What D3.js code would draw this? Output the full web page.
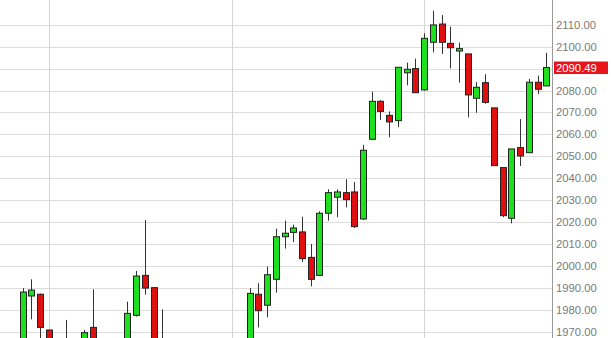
<!DOCTYPE html>
<html>
<head>
<meta charset="utf-8">
<script src="https://cdn.jsdelivr.net/npm/d3@7"></script>
<style>
  body { margin: 0; background: #fff; }
  svg { display: block; }
</style>
</head>
<body>
<div id="chart"></div>
<script>
// weekly candles, oldest first (values below ~1967 fall off the bottom of the view)
var opens  = [1962, 1986.4, 1987.2, 1970.9, 1950, 1958, 1962, 1955, 1972.1, 1960,
              1945, 1950, 1962, 1977.6, 1995.8, 1990.2, 1960, 1950, 1930, 1910,
              1920, 1940, 1935, 1945, 1958, 1950, 1962, 1987.2, 1982.2, 1994.0,
              2013.4, 2015.4, 2015.6, 2004.0, 1995.8, 2024.1, 2031.4, 2033.5, 2033.8, 2021.5,
              2057.8, 2075.1, 2068.7, 2066.3, 2088.1, 2090.0, 2080.3, 2102.0, 2110.3, 2101.5,
              2098.0, 2096.7, 2076.5, 2083.6, 2072.1, 2044.9, 2021.8, 2054.0, 2051.7, 2083.8,
              2082.1];
var highs  = [1990.0, 1994.0, 1987.5, 1971.0, 1962, 1975.5, 1966, 1970.9, 1989.4, 1965,
              1960, 1966, 1983.8, 1997.8, 2021.0, 1990.5, 1980.3, 1960, 1945, 1925,
              1945, 1955, 1950, 1962, 1966, 1965, 1990.0, 1992.2, 1999.8, 2017.1,
              2020.7, 2018.9, 2022.5, 2010.1, 2025.0, 2035.0, 2035.0, 2039.6, 2038.3, 2055.2,
              2079.5, 2075.6, 2070.5, 2090.6, 2092.7, 2094.5, 2106.1, 2116.4, 2114.4, 2109.1,
              2101.8, 2096.7, 2083.9, 2087.4, 2072.1, 2044.9, 2053.4, 2067.0, 2085.3, 2086.8,
              2097.2];
var lows   = [1955, 1975.8, 1962, 1945, 1940, 1950, 1945, 1950, 1955, 1940,
              1935, 1945, 1958, 1977.0, 1987.0, 1955, 1945, 1925, 1905, 1890,
              1915, 1930, 1920, 1940, 1945, 1945, 1958, 1972.1, 1976.7, 1987.9,
              2008.0, 2011.0, 2001.9, 1990.8, 1995.5, 2020.7, 2022.3, 2026.8, 2017.4, 2021.0,
              2057.5, 2066.6, 2058.7, 2063.3, 2082.4, 2079.0, 2080.0, 2097.4, 2096.7, 2090.1,
              2083.6, 2067.8, 2069.9, 2074.0, 2045.8, 2022.3, 2019.5, 2045.6, 2051.5, 2078.4,
              2082.0];
var closes = [1988.2, 1989.1, 1972.1, 1950, 1958, 1962, 1950, 1969.7, 1960, 1945,
              1950, 1962, 1978.5, 1995.5, 1990.0, 1960, 1950, 1930, 1910, 1920,
              1940, 1935, 1945, 1958, 1950, 1962, 1987.6, 1979.7, 1996.1, 2013.4,
              2015.0, 2017.4, 2003.4, 1994.0, 2024.1, 2033.5, 2033.8, 2030.3, 2018.0, 2052.8,
              2075.1, 2070.5, 2065.7, 2090.6, 2089.7, 2079.0, 2103.8, 2109.9, 2102.0, 2099.5,
              2099.1, 2078.0, 2081.5, 2074.6, 2045.8, 2023.0, 2053.4, 2050.2, 2083.8, 2080.6,
              2090.49];
var yTicks = [1970, 1980, 1990, 2000, 2010, 2020, 2030, 2040, 2050, 2060, 2070, 2080, 2090, 2100, 2110];
var vGridAt = [3, 24, 46];   // candle indexes that carry a vertical grid line
var lastPrice = 2090.49;

var width = 611, height = 338, axisX = 552.5;

var candles = opens.map(function (o, i) {
    return { i: i, o: o, h: highs[i], l: lows[i], c: closes[i] };
});

var x = d3.scaleLinear().domain([0, candles.length - 1]).range([22.7, 546.3]);
var y = d3.scaleLinear().domain([1970, 2110]).range([332, 24.7]);

var svg = d3.select('#chart').append('svg')
    .attr('width', width)
    .attr('height', height);

// horizontal grid
svg.append('g').selectAll('line')
    .data(yTicks)
    .enter().append('line')
    .attr('x1', 0)
    .attr('x2', axisX)
    .attr('y1', function (d) { return Math.round(y(d)) + 0.5; })
    .attr('y2', function (d) { return Math.round(y(d)) + 0.5; })
    .style('stroke', '#dcdcdc')
    .style('stroke-width', 1);

// vertical grid
svg.append('g').selectAll('line')
    .data(vGridAt)
    .enter().append('line')
    .attr('x1', function (d) { return Math.round(x(d)) + 0.5; })
    .attr('x2', function (d) { return Math.round(x(d)) + 0.5; })
    .attr('y1', 0)
    .attr('y2', height)
    .style('stroke', '#d4d4d4')
    .style('stroke-width', 1);

var g = svg.append('g').selectAll('g')
    .data(candles)
    .enter()
    .append('g');

g.append('line')
    .attr('x1', function (d) { return Math.round(x(d.i)) + 0.5; })
    .attr('x2', function (d) { return Math.round(x(d.i)) + 0.5; })
    .attr('y1', function (d) { return y(d.h); })
    .attr('y2', function (d) { return y(d.l); })
    .style('stroke', '#333')
    .style('stroke-width', 1);

g.append('rect')
    .attr('x', function (d) { return Math.round(x(d.i)) - 2.5; })
    .attr('y', function (d) { return y(Math.max(d.o, d.c)); })
    .attr('width', 6)
    .attr('height', function (d) { return Math.max(1, Math.abs(y(d.o) - y(d.c))); })
    .style('fill', function (d) { return d.c >= d.o ? '#1ee01e' : '#e01010'; })
    .style('stroke', '#222')
    .style('stroke-width', 1);

// right axis
svg.append('line')
    .attr('x1', axisX).attr('x2', axisX)
    .attr('y1', 0).attr('y2', height)
    .style('stroke', '#999');

svg.append('g').selectAll('text')
    .data(yTicks)
    .enter().append('text')
    .text(function (d) { return d.toFixed(2); })
    .attr('x', 556)
    .attr('y', function (d) { return y(d) + 1; })
    .attr('dominant-baseline', 'middle')
    .style('font-family', 'Liberation Sans, Arial, sans-serif')
    .style('font-size', '11.3px')
    .style('fill', '#7a7a7a');

// last price tag
svg.append('rect')
    .attr('x', 554)
    .attr('y', y(lastPrice) - 6)
    .attr('width', 54)
    .attr('height', 12.5)
    .style('fill', '#e8141c');

svg.append('text')
    .text(lastPrice.toFixed(2))
    .attr('x', 556)
    .attr('y', y(lastPrice) + 1)
    .attr('dominant-baseline', 'middle')
    .style('font-family', 'Liberation Sans, Arial, sans-serif')
    .style('font-size', '11.3px')
    .style('fill', '#ffffff');
</script>
</body>
</html>
